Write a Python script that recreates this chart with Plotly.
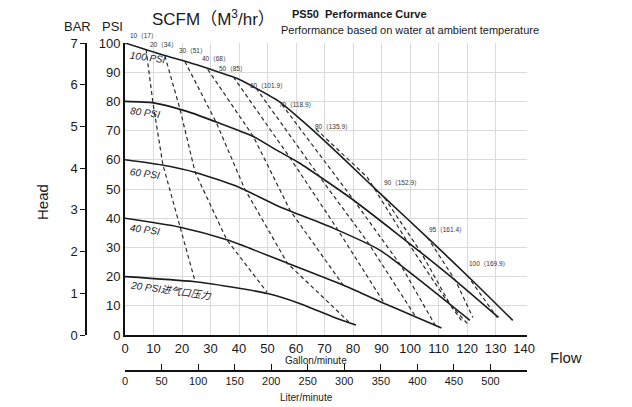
import plotly.graph_objects as go

# ---------------- data ----------------
# Head curves: flow in gallon/minute, head in PSI, for each air inlet pressure
gpm_100 = [0, 13, 22, 30, 39, 45, 54, 62, 70, 76, 90, 107, 122, 136]
psi_100 = [100, 96, 93.5, 91, 88, 85, 80, 73.5, 66.5, 61, 48, 32.5, 18.5, 5]

gpm_80 = [0, 10, 22, 33, 45, 53, 61, 79, 95, 113, 131]
psi_80 = [80, 79.5, 76.5, 72.6, 68, 63.4, 59, 47, 35, 21, 6]

gpm_60 = [0, 13, 25, 39, 54, 73, 89.5, 105, 121]
psi_60 = [60, 58.2, 55.6, 51, 44, 36.6, 29, 17.5, 5]

gpm_40 = [0, 19, 36, 57, 76.5, 89.5, 100, 111]
psi_40 = [40, 37, 32.5, 24.6, 17.1, 11.4, 7, 2.4]

gpm_20 = [0, 24, 40, 50, 61, 73, 81]
psi_20 = [20, 18.3, 16, 14.2, 10.9, 6.2, 3.4]

head_names = ["100 PSI", "80 PSI", "60 PSI", "40 PSI", "20 PSI进气口压力"]

# Air consumption lines (SCFM), flow / head points
scfm_10_x = [7.4, 9.8, 13.3, 19.3, 24.6]
scfm_10_y = [97.8, 79.5, 58.3, 37.2, 18.3]
scfm_20_x = [14, 19.3, 24.6, 35.7, 49.8]
scfm_20_y = [95.6, 77.3, 55.7, 32.6, 14.7]
scfm_30_x = [21, 32, 42, 57, 78.5]
scfm_30_y = [93.7, 72.8, 50, 24.5, 4.5]
scfm_40_x = [29, 45, 58, 76.5]
scfm_40_y = [91, 68, 42.5, 17.1]
scfm_50_x = [38, 58, 74, 91]
scfm_50_y = [88.4, 60.5, 37, 10.8]
scfm_60_x = [46, 68, 85, 102]
scfm_60_y = [84.5, 54.5, 32, 6.2]
scfm_70_x = [55, 80, 97, 109]
scfm_70_y = [79, 46.5, 23.5, 3]
scfm_80_x = [67, 85, 99, 112, 118]
scfm_80_y = [70.5, 54, 32, 13, 5]
scfm_90_x = [91, 104, 114, 120]
scfm_90_y = [47, 28, 10.5, 4]
scfm_95_x = [106, 116, 122]
scfm_95_y = [33.5, 18.5, 6]
scfm_100_x = [120, 130.5]
scfm_100_y = [20.5, 6]

scfm_labels = ["10（17）", "20（34）", "30（51）", "40（68）", "50（85）", "60（101.9）",
               "70（118.9）", "80（135.9）", "90（152.9）", "95（161.4）", "100（169.9）"]

gallon_ticks = list(range(0, 141, 10))
psi_ticks = list(range(0, 101, 10))
bar_ticks = list(range(0, 8))
liter_ticks = list(range(0, 501, 50))

# ---------------- layout helpers (positions given in page pixels) ----------------
OFF = 8                      # page margin of the html body
W, H = 632 - OFF, 407 - OFF
ML, MR, MT, MB = 52, 105, 35, 27
PW, PH = W - ML - MR, H - MT - MB


def fx(px):
    return (px - OFF - ML) / PW


def fy(py):
    return (H - MB - (py - OFF)) / PH


FONT = "Arial, Liberation Sans, Noto Sans CJK SC, sans-serif"
INK = "#1c1c1c"

fig = go.Figure()

heads = [(gpm_100, psi_100), (gpm_80, psi_80), (gpm_60, psi_60),
         (gpm_40, psi_40), (gpm_20, psi_20)]
for (gx, gy), nm in zip(heads, head_names):
    fig.add_trace(go.Scatter(x=gx, y=gy, mode="lines", name=nm,
                             line=dict(color=INK, width=1.6, shape="spline", smoothing=0.6),
                             hoverinfo="skip", showlegend=False))

scfm = [(scfm_10_x, scfm_10_y), (scfm_20_x, scfm_20_y), (scfm_30_x, scfm_30_y),
        (scfm_40_x, scfm_40_y), (scfm_50_x, scfm_50_y), (scfm_60_x, scfm_60_y),
        (scfm_70_x, scfm_70_y), (scfm_80_x, scfm_80_y), (scfm_90_x, scfm_90_y),
        (scfm_95_x, scfm_95_y), (scfm_100_x, scfm_100_y)]
for (sx, sy), lab in zip(scfm, scfm_labels):
    fig.add_trace(go.Scatter(x=sx, y=sy, mode="lines", name=lab,
                             line=dict(color="#2a2a2a", width=1.2, dash="4px,3px"),
                             hoverinfo="skip", showlegend=False))

# invisible anchors so the extra axes are drawn
fig.add_trace(go.Scatter(x=[0], y=[0], xaxis="x", yaxis="y2", mode="markers",
                         marker=dict(opacity=0), hoverinfo="skip", showlegend=False))
fig.add_trace(go.Scatter(x=[0], y=[0], xaxis="x2", yaxis="y", mode="markers",
                         marker=dict(opacity=0), hoverinfo="skip", showlegend=False))

ann = []


def paper_text(px, py, text, size, xanchor="center", angle=0, color="#1a1a1a"):
    ann.append(dict(x=fx(px), y=fy(py), xref="paper", yref="paper", text=text,
                    showarrow=False, xanchor=xanchor, yanchor="middle", textangle=angle,
                    font=dict(size=size, color=color, family=FONT)))


# SCFM labels (page pixel anchors, left aligned)
label_px = [(128, 35), (148, 44), (177, 50), (200, 59), (217, 68), (248, 86),
            (277, 104), (313, 127), (382, 182), (427, 229), (467, 263)]
for lab, (lx, ly) in zip(scfm_labels, label_px):
    paper_text(lx, ly, lab, 6.5, xanchor="left", color="#333")

# head curve labels
head_label_px = [(127, 57), (127, 113), (127, 173), (127, 229), (127, 290)]
for nm, (lx, ly) in zip(head_names, head_label_px):
    paper_text(lx, ly, "<i>" + nm + "</i>", 10, xanchor="left", angle=8, color="#222")

# titles and axis captions
paper_text(213, 18, "SCFM（M<sup>3</sup>/hr）", 17)
paper_text(290, 14, "<b>PS50  Performance Curve</b>", 11, xanchor="left")
paper_text(279, 30, "Performance based on water at ambient temperature", 11, xanchor="left")
paper_text(77, 27, "BAR", 13)
paper_text(112, 27, "PSI", 13)
paper_text(42, 202, "Head", 15, angle=-90)
paper_text(548, 357, "Flow", 15, xanchor="left")
paper_text(316, 360, "Gallon/minute", 10)
paper_text(306, 397, "Liter/minute", 10)

fig.update_layout(
    width=W, height=H, autosize=False,
    margin=dict(l=ML, r=MR, t=MT, b=MB, pad=0),
    paper_bgcolor="white", plot_bgcolor="white",
    font=dict(family=FONT, color="#1a1a1a"),
    showlegend=False,
    annotations=ann,
    xaxis=dict(domain=[fx(125), 1], range=[0, 141], tickmode="array", tickvals=gallon_ticks,
               showline=True, linecolor="#111", linewidth=2, ticks="", showgrid=False,
               zeroline=False, tickfont=dict(size=13, color="#1a1a1a"),
               minor=dict(tickmode="array", tickvals=gallon_ticks[1:-1], showgrid=True,
                          gridcolor="#dadada", gridwidth=1, ticks="")),
    yaxis=dict(domain=[fy(335), 1], range=[0, 100], tickmode="array", tickvals=psi_ticks,
               showline=True, linecolor="#111", linewidth=2, ticks="", showgrid=False,
               zeroline=False, tickfont=dict(size=13, color="#1a1a1a"),
               minor=dict(tickmode="array", tickvals=psi_ticks[1:-1], showgrid=True,
                          gridcolor="#dadada", gridwidth=1, ticks="")),
    yaxis2=dict(overlaying="y", anchor="free", position=fx(86), side="left",
                range=[0, 7], tickmode="array", tickvals=bar_ticks,
                ticks="outside", ticklen=5, tickwidth=1, tickcolor="#111",
                showline=True, linecolor="#111", linewidth=1.5,
                showgrid=False, zeroline=False, tickfont=dict(size=13, color="#1a1a1a")),
    xaxis2=dict(overlaying="x", anchor="free", position=fy(371), side="bottom",
                range=[0, 550], tickmode="array", tickvals=liter_ticks,
                ticks="inside", ticklen=6, tickwidth=1, tickcolor="#111",
                showline=True, linecolor="#111", linewidth=1.5,
                showgrid=False, zeroline=False, tickfont=dict(size=11, color="#1a1a1a")),
)

fig.write_html("out.html")
